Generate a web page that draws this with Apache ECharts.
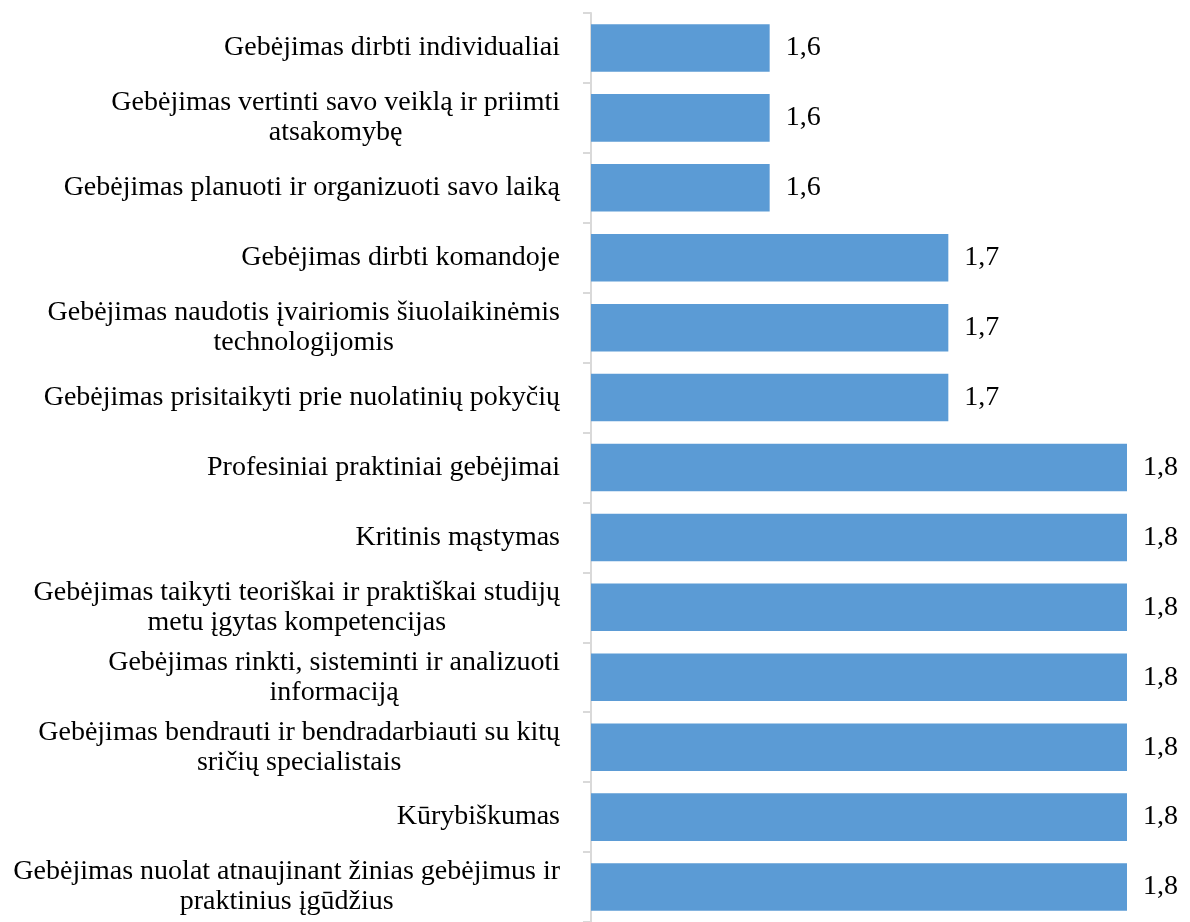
<!DOCTYPE html>
<html>
<head>
<meta charset="utf-8">
<script src="https://cdn.jsdelivr.net/npm/echarts@6/dist/echarts.min.js"></script>
<style>
  html, body { margin: 0; padding: 0; background: #fff; }
  #chart { width: 1190px; height: 922px; }
</style>
</head>
<body>
<div id="chart"></div>
<script>
  // categories, top to bottom
  var categories = [
    'Gebėjimas dirbti individualiai',
    'Gebėjimas vertinti savo veiklą ir priimti\natsakomybę',
    'Gebėjimas planuoti ir organizuoti savo laiką',
    'Gebėjimas dirbti komandoje',
    'Gebėjimas naudotis įvairiomis šiuolaikinėmis\ntechnologijomis',
    'Gebėjimas prisitaikyti prie nuolatinių pokyčių',
    'Profesiniai praktiniai gebėjimai',
    'Kritinis mąstymas',
    'Gebėjimas taikyti teoriškai ir praktiškai studijų\nmetu įgytas kompetencijas',
    'Gebėjimas rinkti, sisteminti ir analizuoti\ninformaciją',
    'Gebėjimas bendrauti ir bendradarbiauti su kitų\nsričių specialistais',
    'Kūrybiškumas',
    'Gebėjimas nuolat atnaujinant žinias gebėjimus ir\npraktinius įgūdžius'
  ]
  var values = [1.6, 1.6, 1.6, 1.7, 1.7, 1.7, 1.8, 1.8, 1.8, 1.8, 1.8, 1.8, 1.8]
  var axisMin = 1.5
  var axisMax = 1.8

  var chart = echarts.init(document.getElementById('chart'))
  var font = '"Liberation Serif", "Times New Roman", serif'
  var fs = 28

  chart.setOption({
    animation: false,
    textStyle: { fontFamily: font },
    grid: {
      left: 591,
      right: 63,
      top: 13,
      height: 914,
      containLabel: false
    },
    xAxis: {
      type: 'value',
      min: axisMin,
      max: axisMax,
      show: false
    },
    yAxis: {
      type: 'category',
      inverse: true,
      data: categories,
      axisLine: { show: true, lineStyle: { color: '#d9d9d9', width: 2 } },
      axisTick: { show: true, length: 8, lineStyle: { color: '#d9d9d9', width: 2 } },
      axisLabel: {
        margin: 31,
        fontFamily: font,
        fontSize: fs,
        color: '#000',
        formatter: function(v) {
          return v.split('\n').map(function(s) { return '{c|' + s + '}' }).join('\n')
        },
        rich: {
          c: { align: 'center', fontFamily: font, fontSize: fs, color: '#000', lineHeight: 30 }
        }
      }
    },
    series: [
      {
        type: 'bar',
        data: values,
        barCategoryGap: '32%',
        itemStyle: { color: '#5b9bd5' },
        label: {
          show: true,
          position: 'right',
          distance: 16,
          fontFamily: font,
          fontSize: fs,
          color: '#000',
          formatter: function(p) {
            return p.value.toFixed(1).replace('.', ',')
          }
        }
      }
    ]
  })
</script>
</body>
</html>
